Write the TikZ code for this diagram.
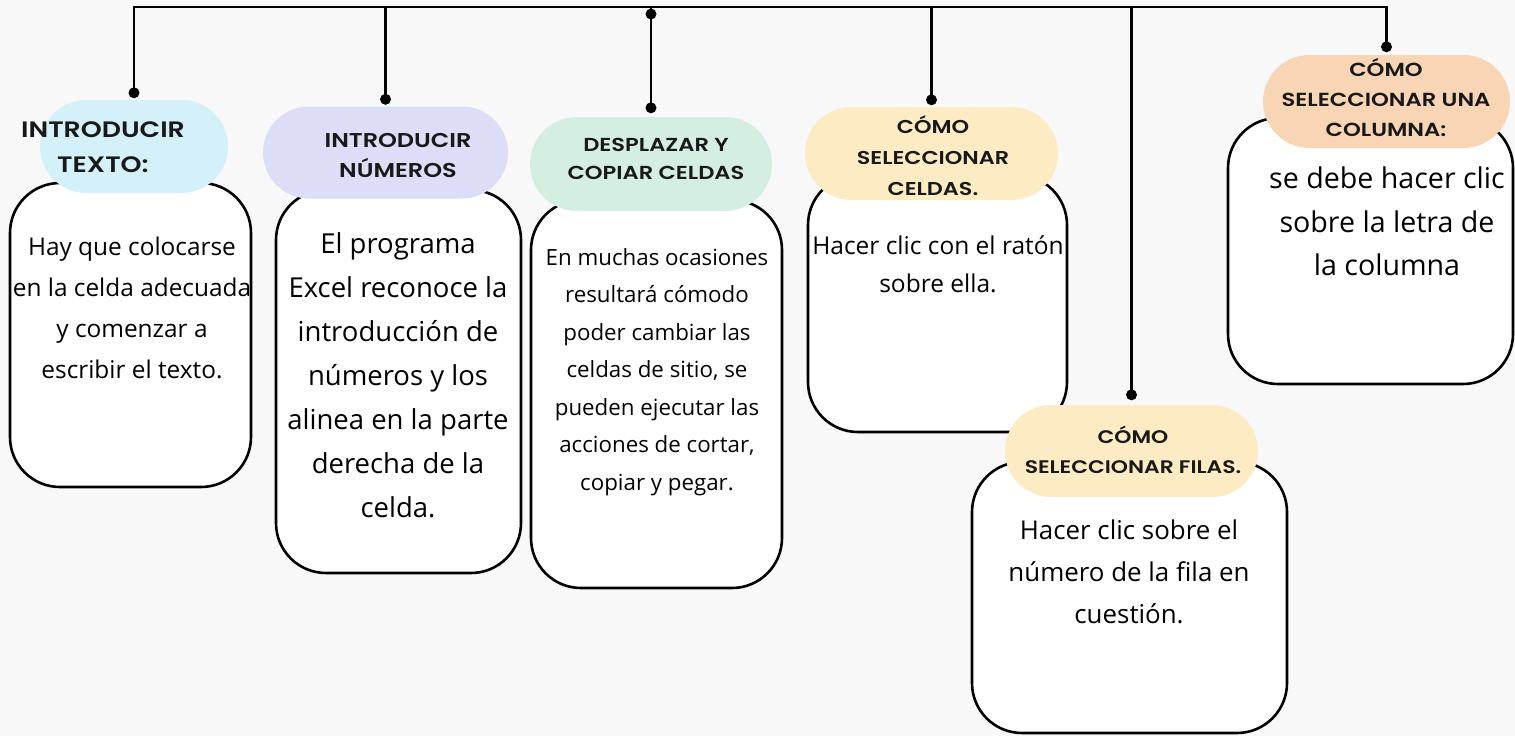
\documentclass[tikz,border=0pt]{standalone}
\usepackage{fontspec}
\setmainfont{Open Sans}
\newfontfamily\headfont{Poppins}[FakeStretch=1.2, BoldFont={Poppins SemiBold}, BoldFeatures={FakeStretch=1.2}]
\usetikzlibrary{shapes.misc,calc}
\definecolor{bgc}{HTML}{F8F8F8}
\definecolor{pblue}{HTML}{D4F1FA}
\definecolor{plav}{HTML}{DEDDF7}
\definecolor{pmint}{HTML}{D4EEE2}
\definecolor{pcream}{HTML}{FCEBC3}
\definecolor{ppeach}{HTML}{F8D5B4}
\tikzset{
  boxst/.style={draw=black, line width=2.6pt, fill=white, rounded corners=50pt, inner sep=0pt},
  pillst/.style={rounded rectangle, inner sep=0pt, draw=none},
  headst/.style={align=center, inner sep=0pt, text=black!90},
  bodyst/.style={align=center, inner sep=0pt, text=black},
  link/.style={line width=2.6pt, draw=black},
  dotst/.style={fill=black}
}
\newcommand{\hfnt}[2]{\headfont\bfseries\fontsize{#1}{#2}\selectfont}
\newcommand{\bdf}[2]{\fontsize{#1}{#2}\selectfont}
\begin{document}
\begin{tikzpicture}[x=1pt,y=-1pt]
\useasboundingbox (0,0) rectangle (1515,736);
\fill[bgc] (0,0) rectangle (1515,736);
% boxes
\node[boxst, minimum width=241pt, minimum height=304pt] (b1) at (130.5,335) {};
\node[boxst, minimum width=245pt, minimum height=383pt] (b2) at (398.5,381.5) {};
\node[boxst, minimum width=251pt, minimum height=388pt] (b3) at (656.5,394) {};
\node[boxst, minimum width=259pt, minimum height=257pt] (b4) at (937.5,303.5) {};
\node[boxst, minimum width=315pt, minimum height=271pt] (b5) at (1129.5,597.5) {};
\node[boxst, minimum width=285pt, minimum height=266pt] (b6) at (1370.5,251) {};
% pills
\node[pillst, fill=pblue,  minimum width=188pt, minimum height=93pt] (p1) at (134,146.5) {};
\node[pillst, fill=plav,   minimum width=245pt, minimum height=92pt] (p2) at (385.5,152.5) {};
\node[pillst, fill=pmint,  minimum width=242pt, minimum height=94pt] (p3) at (651,164) {};
\node[pillst, fill=pcream, minimum width=253pt, minimum height=93pt] (p4) at (931.5,153.5) {};
\node[pillst, fill=pcream, minimum width=253pt, minimum height=92pt] (p5) at (1131.5,451) {};
\node[pillst, fill=ppeach, minimum width=247pt, minimum height=93pt] (p6) at (1386.5,101.5) {};
% header texts
\node[headst, font=\hfnt{22.3}{35}] (h1) at (103,147.5) {INTRODUCIR\\TEXTO:};
\node[headst, font=\hfnt{20}{30}] (h2) at (398,155) {INTRODUCIR\\NÚMEROS};
\node[headst, font=\hfnt{18.8}{28}] (h3) at (656,159) {DESPLAZAR Y\\COPIAR CELDAS};
\node[headst, font=\hfnt{18.6}{31}] (h4) at (933,156) {CÓMO\\SELECCIONAR\\CELDAS.};
\node[headst, font=\hfnt{18.2}{30}] (h5) at (1133,450) {CÓMO\\SELECCIONAR FILAS.};
\node[headst, font=\hfnt{18.9}{30}] (h6) at (1386,98) {CÓMO\\SELECCIONAR UNA\\COLUMNA:};
% body texts
\node[bodyst, font=\bdf{24.4}{41}] (t1) at (132,307.5) {Hay que colocarse\\en la celda adecuada\\y comenzar a\\escribir el texto.};
\node[bodyst, font=\bdf{27.5}{44}] (t2) at (398,375.5) {El programa\\Excel reconoce la\\introducción de\\números y los\\alinea en la parte\\derecha de la\\celda.};
\node[bodyst, font=\bdf{22.3}{37.5}] (t3) at (657,372) {En muchas ocasiones\\resultará cómodo\\poder cambiar las\\celdas de sitio, se\\pueden ejecutar las\\acciones de cortar,\\copiar y pegar.};
\node[bodyst, font=\bdf{24.5}{38}] (t4) at (938,264) {Hacer clic con el ratón\\sobre ella.};
\node[bodyst, font=\bdf{25.9}{42}] (t5) at (1129,572) {Hacer clic sobre el\\número de la fila en\\cuestión.};
\node[bodyst, font=\bdf{28.6}{43.5}] (t6) at (1387,221.5) {se debe hacer clic\\sobre la letra de\\la columna};
% connectors
\coordinate (top) at (0,7);
\coordinate (d1) at ($(p1.north)+(0,-7)$);
\coordinate (d2) at ($(p2.north)+(0,-7)$);
\coordinate (d3) at ($(p3.north)+(0,-9)$);
\coordinate (d4) at ($(p4.north)+(0,-7)$);
\coordinate (d5) at ($(p5.north)+(0,-10)$);
\coordinate (d6) at ($(p6.north)+(0,-8)$);
\coordinate (d3t) at ($(d3 |- top)+(0,7)$);
\draw[link] (d1) -- (d1 |- top) -- (d6 |- top) -- (d6);
\draw[link] (d2) -- (d2 |- top);
\draw[link] (d3) -- (d3 |- top);
\draw[link] (d4) -- (d4 |- top);
\draw[link] (d5) -- (d5 |- top);
\foreach \d in {d1,d2,d3,d4,d5,d6,d3t} \fill[dotst] (\d) circle (5.5pt);
\end{tikzpicture}
\end{document}
